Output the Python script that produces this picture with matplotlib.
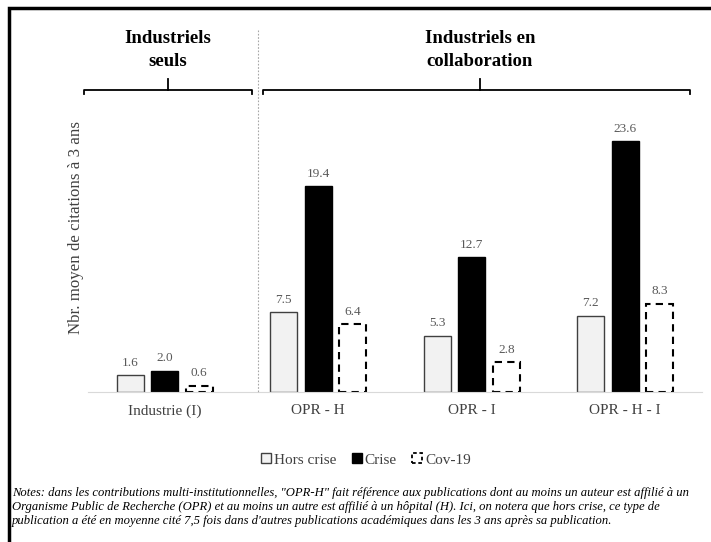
import numpy as np
import matplotlib
matplotlib.use("Agg")
import matplotlib.pyplot as plt
from matplotlib.patches import Patch, Rectangle
from matplotlib.lines import Line2D

categories = ["Industrie (I)", "OPR - H", "OPR - I", "OPR - H - I"]
hors_crise = [1.6, 7.5, 5.3, 7.2]
crise = [2.0, 19.4, 12.7, 23.6]
cov19 = [0.6, 6.4, 2.8, 8.3]
series_names = ["Hors crise", "Crise", "Cov-19"]
group_titles = ["Industriels\nseuls", "Industriels en\ncollaboration"]
notes = ("Notes: dans les contributions multi-institutionnelles, \"OPR-H\" fait référence aux publications dont au moins un auteur est affilié à un\n"
         "Organisme Public de Recherche (OPR) et au moins un autre est affilié à un hôpital (H). Ici, on notera que hors crise, ce type de\n"
         "publication a été en moyenne cité 7,5 fois dans d'autres publications académiques dans les 3 ans après sa publication.")

plt.rcParams['font.family'] = ['Liberation Serif', 'DejaVu Serif']

W, H = 711, 542
fig = plt.figure(figsize=(W / 100, H / 100), dpi=100)

def fx(px):
    return px / W

def fy(py):
    return 1 - py / H

ax = fig.add_axes([fx(88), fy(392), fx(614), (392 - 100) / H])

x = np.arange(len(categories))
w = 0.175
off = 0.225
ax.bar(x - off, hors_crise, w, color="#f2f2f2", edgecolor="#404040", linewidth=1)
ax.bar(x, crise, w, color="black", edgecolor="black", linewidth=1)
ax.bar(x + off, cov19, w, color="white", edgecolor="black", linewidth=1.5, linestyle=(0, (3.5, 2.5)))

for vals, dx in [(hors_crise, -off), (crise, 0), (cov19, off)]:
    for i, v in enumerate(vals):
        ax.text(i + dx, v + 0.6, f"{v:.1f}", ha="center", va="bottom", fontsize=9.5, color="#595959")

ax.set_xlim(-0.5, len(categories) - 0.5)
ax.set_ylim(0, 27.5)
ax.set_xticks(x)
ax.set_xticklabels(categories, fontsize=11, color="#404040")
ax.tick_params(axis="x", length=0, pad=9)
ax.set_yticks([])
for s in ["top", "right", "left"]:
    ax.spines[s].set_visible(False)
ax.spines["bottom"].set_color("#d9d9d9")
ax.set_ylabel("Nbr. moyen de citations à 3 ans", fontsize=12.2, color="#404040")
ax.yaxis.set_label_coords((73 - 88 + 11) / 614, (392 - 228) / 292)

# dotted separator between groups
fig.add_artist(Line2D([fx(258), fx(258)], [fy(30), fy(392)], color="#a6a6a6", lw=0.8, ls=(0, (1.5, 1.5))))

# brackets and group titles
for (x0, x1, xc), title in zip([(84, 252, 168), (263, 690, 480)], group_titles):
    fig.add_artist(Line2D([fx(x0), fx(x0), fx(x1), fx(x1)], [fy(94), fy(90), fy(90), fy(94)], color="black", lw=1.3))
    fig.add_artist(Line2D([fx(xc), fx(xc)], [fy(90), fy(79)], color="black", lw=1.3))
    fig.text(fx(xc), fy(50), title, ha="center", va="center", fontsize=13.5, fontweight="bold", linespacing=1.45)

handles = [Patch(facecolor="#f2f2f2", edgecolor="#404040", lw=1),
           Patch(facecolor="black", edgecolor="black", lw=1),
           Patch(facecolor="white", edgecolor="black", lw=1.3, ls=(0, (2, 1.5)))]
fig.legend(handles, series_names, loc="center", bbox_to_anchor=(fx(366), fy(460)), ncol=3, frameon=False,
           fontsize=11, handlelength=0.65, handleheight=0.65, handletextpad=0.2, columnspacing=1.0,
           labelcolor="#404040")

fig.text(fx(12), fy(507), notes, ha="left", va="center", fontsize=9.1, style="italic", linespacing=1.22)

# figure frame
fig.add_artist(Rectangle((fx(9), fy(560)), 1.2, fy(8) - fy(560), fill=False, edgecolor="black", lw=2.5))

fig.savefig("out.png", dpi=100)
